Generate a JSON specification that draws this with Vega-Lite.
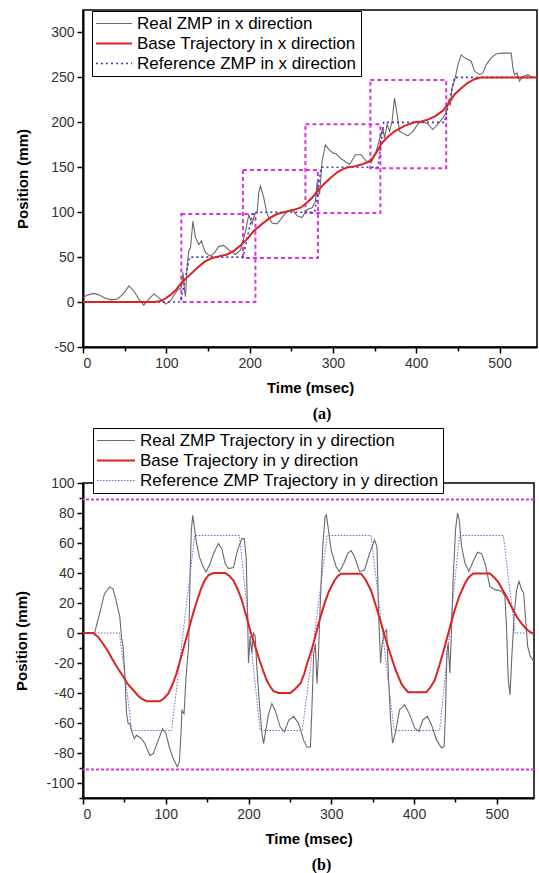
{
  "$schema": "https://vega.github.io/schema/vega-lite/v6.json",
  "padding": {"left": 14, "top": 9, "right": 0, "bottom": 0},
  "config": {
    "font": "Liberation Sans",
    "view": {"stroke": "black", "strokeWidth": 1.5},
    "axis": {"grid": false, "domainColor": "black", "domainWidth": 2, "tickColor": "black", "tickWidth": 1.5, "labelFont": "Liberation Sans", "labelFontSize": 14, "labelColor": "#333", "titleFont": "Liberation Sans", "titleFontSize": 15, "titleFontWeight": "bold", "titleColor": "black", "labelPadding": 3, "labelOverlap": false},
    "concat": {"spacing": 3}
  },
  "datasets": {
    "aRects": [
      {"t": 118, "t2": 207, "v": 0, "v2": 98},
      {"t": 192, "t2": 282, "v": 49, "v2": 147},
      {"t": 267, "t2": 357, "v": 99, "v2": 198},
      {"t": 345, "t2": 436, "v": 149, "v2": 247}
    ],
    "aLines": [
      {"s": "Real ZMP in x direction", "t": 0, "v": 5}, {"s": "Real ZMP in x direction", "t": 6, "v": 8}, {"s": "Real ZMP in x direction", "t": 13, "v": 9.6}, {"s": "Real ZMP in x direction", "t": 19, "v": 8}, {"s": "Real ZMP in x direction", "t": 25, "v": 5}, {"s": "Real ZMP in x direction", "t": 33, "v": 2.5}, {"s": "Real ZMP in x direction", "t": 41, "v": 3.3}, {"s": "Real ZMP in x direction", "t": 47, "v": 8}, {"s": "Real ZMP in x direction", "t": 51, "v": 12.5}, {"s": "Real ZMP in x direction", "t": 55, "v": 18}, {"s": "Real ZMP in x direction", "t": 61, "v": 12.5}, {"s": "Real ZMP in x direction", "t": 67, "v": 3.3}, {"s": "Real ZMP in x direction", "t": 73, "v": -3.4}, {"s": "Real ZMP in x direction", "t": 79, "v": 3.3}, {"s": "Real ZMP in x direction", "t": 85, "v": 9}, {"s": "Real ZMP in x direction", "t": 91, "v": 5}, {"s": "Real ZMP in x direction", "t": 99, "v": -2.3}, {"s": "Real ZMP in x direction", "t": 105, "v": 1.4}, {"s": "Real ZMP in x direction", "t": 113, "v": 13}, {"s": "Real ZMP in x direction", "t": 118, "v": 16}, {"s": "Real ZMP in x direction", "t": 120, "v": 33}, {"s": "Real ZMP in x direction", "t": 122, "v": 12}, {"s": "Real ZMP in x direction", "t": 123, "v": 6}, {"s": "Real ZMP in x direction", "t": 125, "v": 40}, {"s": "Real ZMP in x direction", "t": 127, "v": 57}, {"s": "Real ZMP in x direction", "t": 129, "v": 60}, {"s": "Real ZMP in x direction", "t": 132, "v": 90}, {"s": "Real ZMP in x direction", "t": 135, "v": 72}, {"s": "Real ZMP in x direction", "t": 139, "v": 64}, {"s": "Real ZMP in x direction", "t": 142, "v": 68}, {"s": "Real ZMP in x direction", "t": 147, "v": 55}, {"s": "Real ZMP in x direction", "t": 153, "v": 51}, {"s": "Real ZMP in x direction", "t": 158, "v": 55}, {"s": "Real ZMP in x direction", "t": 163, "v": 62}, {"s": "Real ZMP in x direction", "t": 169, "v": 63}, {"s": "Real ZMP in x direction", "t": 175, "v": 58}, {"s": "Real ZMP in x direction", "t": 183, "v": 53}, {"s": "Real ZMP in x direction", "t": 189, "v": 58}, {"s": "Real ZMP in x direction", "t": 195, "v": 78}, {"s": "Real ZMP in x direction", "t": 199, "v": 97}, {"s": "Real ZMP in x direction", "t": 203, "v": 87}, {"s": "Real ZMP in x direction", "t": 206, "v": 98}, {"s": "Real ZMP in x direction", "t": 209, "v": 99}, {"s": "Real ZMP in x direction", "t": 211, "v": 122}, {"s": "Real ZMP in x direction", "t": 213, "v": 129}, {"s": "Real ZMP in x direction", "t": 217, "v": 116}, {"s": "Real ZMP in x direction", "t": 221, "v": 98}, {"s": "Real ZMP in x direction", "t": 227, "v": 88}, {"s": "Real ZMP in x direction", "t": 233, "v": 87}, {"s": "Real ZMP in x direction", "t": 239, "v": 94}, {"s": "Real ZMP in x direction", "t": 245, "v": 101}, {"s": "Real ZMP in x direction", "t": 251, "v": 103}, {"s": "Real ZMP in x direction", "t": 257, "v": 96}, {"s": "Real ZMP in x direction", "t": 263, "v": 94}, {"s": "Real ZMP in x direction", "t": 269, "v": 103}, {"s": "Real ZMP in x direction", "t": 275, "v": 105}, {"s": "Real ZMP in x direction", "t": 279, "v": 112}, {"s": "Real ZMP in x direction", "t": 281, "v": 133}, {"s": "Real ZMP in x direction", "t": 284, "v": 120}, {"s": "Real ZMP in x direction", "t": 287, "v": 157}, {"s": "Real ZMP in x direction", "t": 291, "v": 175}, {"s": "Real ZMP in x direction", "t": 295, "v": 170}, {"s": "Real ZMP in x direction", "t": 300, "v": 166}, {"s": "Real ZMP in x direction", "t": 304, "v": 165}, {"s": "Real ZMP in x direction", "t": 309, "v": 160}, {"s": "Real ZMP in x direction", "t": 314, "v": 157}, {"s": "Real ZMP in x direction", "t": 320, "v": 153}, {"s": "Real ZMP in x direction", "t": 327, "v": 164}, {"s": "Real ZMP in x direction", "t": 334, "v": 164}, {"s": "Real ZMP in x direction", "t": 340, "v": 157}, {"s": "Real ZMP in x direction", "t": 346, "v": 155}, {"s": "Real ZMP in x direction", "t": 352, "v": 168}, {"s": "Real ZMP in x direction", "t": 356, "v": 181}, {"s": "Real ZMP in x direction", "t": 360, "v": 194}, {"s": "Real ZMP in x direction", "t": 362, "v": 182}, {"s": "Real ZMP in x direction", "t": 365, "v": 198}, {"s": "Real ZMP in x direction", "t": 368, "v": 190}, {"s": "Real ZMP in x direction", "t": 371, "v": 201}, {"s": "Real ZMP in x direction", "t": 374, "v": 227}, {"s": "Real ZMP in x direction", "t": 377, "v": 209}, {"s": "Real ZMP in x direction", "t": 380, "v": 190}, {"s": "Real ZMP in x direction", "t": 384, "v": 188}, {"s": "Real ZMP in x direction", "t": 390, "v": 185}, {"s": "Real ZMP in x direction", "t": 396, "v": 190}, {"s": "Real ZMP in x direction", "t": 402, "v": 198}, {"s": "Real ZMP in x direction", "t": 408, "v": 201}, {"s": "Real ZMP in x direction", "t": 414, "v": 198}, {"s": "Real ZMP in x direction", "t": 420, "v": 192}, {"s": "Real ZMP in x direction", "t": 426, "v": 198}, {"s": "Real ZMP in x direction", "t": 432, "v": 205}, {"s": "Real ZMP in x direction", "t": 436, "v": 211}, {"s": "Real ZMP in x direction", "t": 439, "v": 224}, {"s": "Real ZMP in x direction", "t": 441, "v": 220}, {"s": "Real ZMP in x direction", "t": 443, "v": 238}, {"s": "Real ZMP in x direction", "t": 446, "v": 246}, {"s": "Real ZMP in x direction", "t": 450, "v": 264}, {"s": "Real ZMP in x direction", "t": 454, "v": 275}, {"s": "Real ZMP in x direction", "t": 458, "v": 272}, {"s": "Real ZMP in x direction", "t": 462, "v": 270}, {"s": "Real ZMP in x direction", "t": 466, "v": 268}, {"s": "Real ZMP in x direction", "t": 470, "v": 257}, {"s": "Real ZMP in x direction", "t": 476, "v": 253}, {"s": "Real ZMP in x direction", "t": 480, "v": 255}, {"s": "Real ZMP in x direction", "t": 484, "v": 264}, {"s": "Real ZMP in x direction", "t": 490, "v": 272}, {"s": "Real ZMP in x direction", "t": 496, "v": 276}, {"s": "Real ZMP in x direction", "t": 502, "v": 277}, {"s": "Real ZMP in x direction", "t": 510, "v": 277}, {"s": "Real ZMP in x direction", "t": 514, "v": 277}, {"s": "Real ZMP in x direction", "t": 516, "v": 261}, {"s": "Real ZMP in x direction", "t": 518, "v": 253}, {"s": "Real ZMP in x direction", "t": 521, "v": 255}, {"s": "Real ZMP in x direction", "t": 524, "v": 246}, {"s": "Real ZMP in x direction", "t": 528, "v": 251}, {"s": "Real ZMP in x direction", "t": 534, "v": 253}, {"s": "Real ZMP in x direction", "t": 540, "v": 250}, {"s": "Real ZMP in x direction", "t": 545, "v": 250},
      {"s": "Base Trajectory in x direction", "t": 0, "v": 0}, {"s": "Base Trajectory in x direction", "t": 85, "v": 0}, {"s": "Base Trajectory in x direction", "t": 90, "v": 0.5}, {"s": "Base Trajectory in x direction", "t": 95, "v": 2}, {"s": "Base Trajectory in x direction", "t": 100, "v": 4.5}, {"s": "Base Trajectory in x direction", "t": 105, "v": 8}, {"s": "Base Trajectory in x direction", "t": 112, "v": 14}, {"s": "Base Trajectory in x direction", "t": 119, "v": 22}, {"s": "Base Trajectory in x direction", "t": 128, "v": 30}, {"s": "Base Trajectory in x direction", "t": 137, "v": 38}, {"s": "Base Trajectory in x direction", "t": 146, "v": 45}, {"s": "Base Trajectory in x direction", "t": 155, "v": 49}, {"s": "Base Trajectory in x direction", "t": 164, "v": 51}, {"s": "Base Trajectory in x direction", "t": 173, "v": 53}, {"s": "Base Trajectory in x direction", "t": 181, "v": 57}, {"s": "Base Trajectory in x direction", "t": 189, "v": 63}, {"s": "Base Trajectory in x direction", "t": 197, "v": 70}, {"s": "Base Trajectory in x direction", "t": 205, "v": 79}, {"s": "Base Trajectory in x direction", "t": 215, "v": 87}, {"s": "Base Trajectory in x direction", "t": 225, "v": 94}, {"s": "Base Trajectory in x direction", "t": 233, "v": 98}, {"s": "Base Trajectory in x direction", "t": 241, "v": 100}, {"s": "Base Trajectory in x direction", "t": 251, "v": 102}, {"s": "Base Trajectory in x direction", "t": 261, "v": 105}, {"s": "Base Trajectory in x direction", "t": 268, "v": 110}, {"s": "Base Trajectory in x direction", "t": 275, "v": 116}, {"s": "Base Trajectory in x direction", "t": 282, "v": 124}, {"s": "Base Trajectory in x direction", "t": 290, "v": 132}, {"s": "Base Trajectory in x direction", "t": 298, "v": 139}, {"s": "Base Trajectory in x direction", "t": 306, "v": 145}, {"s": "Base Trajectory in x direction", "t": 312, "v": 148}, {"s": "Base Trajectory in x direction", "t": 318, "v": 150}, {"s": "Base Trajectory in x direction", "t": 326, "v": 151}, {"s": "Base Trajectory in x direction", "t": 334, "v": 153}, {"s": "Base Trajectory in x direction", "t": 340, "v": 155}, {"s": "Base Trajectory in x direction", "t": 346, "v": 158}, {"s": "Base Trajectory in x direction", "t": 352, "v": 166}, {"s": "Base Trajectory in x direction", "t": 358, "v": 176}, {"s": "Base Trajectory in x direction", "t": 366, "v": 184}, {"s": "Base Trajectory in x direction", "t": 374, "v": 190}, {"s": "Base Trajectory in x direction", "t": 386, "v": 196}, {"s": "Base Trajectory in x direction", "t": 398, "v": 200}, {"s": "Base Trajectory in x direction", "t": 406, "v": 201}, {"s": "Base Trajectory in x direction", "t": 414, "v": 203}, {"s": "Base Trajectory in x direction", "t": 423, "v": 207}, {"s": "Base Trajectory in x direction", "t": 432, "v": 213}, {"s": "Base Trajectory in x direction", "t": 439, "v": 221}, {"s": "Base Trajectory in x direction", "t": 446, "v": 231}, {"s": "Base Trajectory in x direction", "t": 454, "v": 238}, {"s": "Base Trajectory in x direction", "t": 462, "v": 244}, {"s": "Base Trajectory in x direction", "t": 470, "v": 248}, {"s": "Base Trajectory in x direction", "t": 478, "v": 250}, {"s": "Base Trajectory in x direction", "t": 545, "v": 250},
      {"s": "Reference ZMP in x direction", "t": 0, "v": 0}, {"s": "Reference ZMP in x direction", "t": 117, "v": 0}, {"s": "Reference ZMP in x direction", "t": 128, "v": 50}, {"s": "Reference ZMP in x direction", "t": 192, "v": 50}, {"s": "Reference ZMP in x direction", "t": 204, "v": 100}, {"s": "Reference ZMP in x direction", "t": 278, "v": 100}, {"s": "Reference ZMP in x direction", "t": 286, "v": 150}, {"s": "Reference ZMP in x direction", "t": 354, "v": 150}, {"s": "Reference ZMP in x direction", "t": 361, "v": 200}, {"s": "Reference ZMP in x direction", "t": 434, "v": 200}, {"s": "Reference ZMP in x direction", "t": 446, "v": 250}, {"s": "Reference ZMP in x direction", "t": 545, "v": 250}
    ],
    "bLim": [{"v": 89}, {"v": -91}],
    "bLines": [
      {"s": "Real ZMP Trajectory in y direction", "t": 0, "v": 0}, {"s": "Real ZMP Trajectory in y direction", "t": 14, "v": 0}, {"s": "Real ZMP Trajectory in y direction", "t": 20, "v": 12.9}, {"s": "Real ZMP Trajectory in y direction", "t": 26, "v": 26.2}, {"s": "Real ZMP Trajectory in y direction", "t": 32, "v": 30.7}, {"s": "Real ZMP Trajectory in y direction", "t": 36, "v": 29.6}, {"s": "Real ZMP Trajectory in y direction", "t": 40, "v": 21.8}, {"s": "Real ZMP Trajectory in y direction", "t": 44.5, "v": 10.7}, {"s": "Real ZMP Trajectory in y direction", "t": 46.5, "v": -2.6}, {"s": "Real ZMP Trajectory in y direction", "t": 48.5, "v": -9.3}, {"s": "Real ZMP Trajectory in y direction", "t": 50.5, "v": -27}, {"s": "Real ZMP Trajectory in y direction", "t": 52.6, "v": -53.8}, {"s": "Real ZMP Trajectory in y direction", "t": 54.6, "v": -60.4}, {"s": "Real ZMP Trajectory in y direction", "t": 56.6, "v": -60.4}, {"s": "Real ZMP Trajectory in y direction", "t": 58.6, "v": -64.9}, {"s": "Real ZMP Trajectory in y direction", "t": 61.9, "v": -70.4}, {"s": "Real ZMP Trajectory in y direction", "t": 64.7, "v": -68.2}, {"s": "Real ZMP Trajectory in y direction", "t": 67.9, "v": -69.3}, {"s": "Real ZMP Trajectory in y direction", "t": 70.7, "v": -70.4}, {"s": "Real ZMP Trajectory in y direction", "t": 74.8, "v": -73.8}, {"s": "Real ZMP Trajectory in y direction", "t": 80.8, "v": -81.6}, {"s": "Real ZMP Trajectory in y direction", "t": 84.9, "v": -80.4}, {"s": "Real ZMP Trajectory in y direction", "t": 90.9, "v": -71.6}, {"s": "Real ZMP Trajectory in y direction", "t": 96.2, "v": -63.8}, {"s": "Real ZMP Trajectory in y direction", "t": 100.2, "v": -67.1}, {"s": "Real ZMP Trajectory in y direction", "t": 104.3, "v": -76}, {"s": "Real ZMP Trajectory in y direction", "t": 109.1, "v": -83.8}, {"s": "Real ZMP Trajectory in y direction", "t": 114, "v": -89.3}, {"s": "Real ZMP Trajectory in y direction", "t": 116.4, "v": -86}, {"s": "Real ZMP Trajectory in y direction", "t": 118.4, "v": -67.1}, {"s": "Real ZMP Trajectory in y direction", "t": 119.6, "v": -51.6}, {"s": "Real ZMP Trajectory in y direction", "t": 122.1, "v": -53.8}, {"s": "Real ZMP Trajectory in y direction", "t": 124.5, "v": -29.3}, {"s": "Real ZMP Trajectory in y direction", "t": 126.1, "v": -18.2}, {"s": "Real ZMP Trajectory in y direction", "t": 127.7, "v": -9.3}, {"s": "Real ZMP Trajectory in y direction", "t": 129.3, "v": 35.1}, {"s": "Real ZMP Trajectory in y direction", "t": 130.9, "v": 68.4}, {"s": "Real ZMP Trajectory in y direction", "t": 132.6, "v": 78.4}, {"s": "Real ZMP Trajectory in y direction", "t": 134.6, "v": 70.7}, {"s": "Real ZMP Trajectory in y direction", "t": 136.6, "v": 61.8}, {"s": "Real ZMP Trajectory in y direction", "t": 140.6, "v": 50.7}, {"s": "Real ZMP Trajectory in y direction", "t": 145.5, "v": 44}, {"s": "Real ZMP Trajectory in y direction", "t": 148.7, "v": 40.7}, {"s": "Real ZMP Trajectory in y direction", "t": 153.6, "v": 46.2}, {"s": "Real ZMP Trajectory in y direction", "t": 157.6, "v": 52.9}, {"s": "Real ZMP Trajectory in y direction", "t": 163.7, "v": 59.6}, {"s": "Real ZMP Trajectory in y direction", "t": 167.7, "v": 56.2}, {"s": "Real ZMP Trajectory in y direction", "t": 171.8, "v": 46.2}, {"s": "Real ZMP Trajectory in y direction", "t": 175.8, "v": 42.9}, {"s": "Real ZMP Trajectory in y direction", "t": 181.8, "v": 43.6}, {"s": "Real ZMP Trajectory in y direction", "t": 186.7, "v": 55.1}, {"s": "Real ZMP Trajectory in y direction", "t": 191.9, "v": 62.9}, {"s": "Real ZMP Trajectory in y direction", "t": 194.8, "v": 62.9}, {"s": "Real ZMP Trajectory in y direction", "t": 197.2, "v": 50.7}, {"s": "Real ZMP Trajectory in y direction", "t": 198.8, "v": 13.3}, {"s": "Real ZMP Trajectory in y direction", "t": 200, "v": -20}, {"s": "Real ZMP Trajectory in y direction", "t": 202, "v": -2.2}, {"s": "Real ZMP Trajectory in y direction", "t": 204, "v": -13.3}, {"s": "Real ZMP Trajectory in y direction", "t": 206, "v": 0}, {"s": "Real ZMP Trajectory in y direction", "t": 208, "v": -2}, {"s": "Real ZMP Trajectory in y direction", "t": 210, "v": -22.2}, {"s": "Real ZMP Trajectory in y direction", "t": 213.4, "v": -48.9}, {"s": "Real ZMP Trajectory in y direction", "t": 216.2, "v": -66.7}, {"s": "Real ZMP Trajectory in y direction", "t": 218.2, "v": -73.8}, {"s": "Real ZMP Trajectory in y direction", "t": 220.2, "v": -67.1}, {"s": "Real ZMP Trajectory in y direction", "t": 224.3, "v": -53.8}, {"s": "Real ZMP Trajectory in y direction", "t": 228.3, "v": -47.1}, {"s": "Real ZMP Trajectory in y direction", "t": 232.3, "v": -51.6}, {"s": "Real ZMP Trajectory in y direction", "t": 238.4, "v": -62.7}, {"s": "Real ZMP Trajectory in y direction", "t": 243.3, "v": -66}, {"s": "Real ZMP Trajectory in y direction", "t": 248.5, "v": -58.2}, {"s": "Real ZMP Trajectory in y direction", "t": 254.6, "v": -55.6}, {"s": "Real ZMP Trajectory in y direction", "t": 260.6, "v": -60.4}, {"s": "Real ZMP Trajectory in y direction", "t": 266.7, "v": -71.6}, {"s": "Real ZMP Trajectory in y direction", "t": 270.7, "v": -76}, {"s": "Real ZMP Trajectory in y direction", "t": 274.8, "v": -76}, {"s": "Real ZMP Trajectory in y direction", "t": 276.4, "v": -53.8}, {"s": "Real ZMP Trajectory in y direction", "t": 278.8, "v": -13.8}, {"s": "Real ZMP Trajectory in y direction", "t": 280.8, "v": -7.1}, {"s": "Real ZMP Trajectory in y direction", "t": 282.8, "v": -33.8}, {"s": "Real ZMP Trajectory in y direction", "t": 284.4, "v": -16}, {"s": "Real ZMP Trajectory in y direction", "t": 286.9, "v": 22}, {"s": "Real ZMP Trajectory in y direction", "t": 289.7, "v": 57.6}, {"s": "Real ZMP Trajectory in y direction", "t": 292.5, "v": 77.6}, {"s": "Real ZMP Trajectory in y direction", "t": 294.1, "v": 78.7}, {"s": "Real ZMP Trajectory in y direction", "t": 296.6, "v": 68.7}, {"s": "Real ZMP Trajectory in y direction", "t": 299.8, "v": 55.4}, {"s": "Real ZMP Trajectory in y direction", "t": 305.9, "v": 44.2}, {"s": "Real ZMP Trajectory in y direction", "t": 309.9, "v": 40.9}, {"s": "Real ZMP Trajectory in y direction", "t": 315.2, "v": 46.5}, {"s": "Real ZMP Trajectory in y direction", "t": 320, "v": 53.1}, {"s": "Real ZMP Trajectory in y direction", "t": 324, "v": 54.9}, {"s": "Real ZMP Trajectory in y direction", "t": 328.1, "v": 51}, {"s": "Real ZMP Trajectory in y direction", "t": 334.2, "v": 40.9}, {"s": "Real ZMP Trajectory in y direction", "t": 340.2, "v": 42}, {"s": "Real ZMP Trajectory in y direction", "t": 346.3, "v": 53.1}, {"s": "Real ZMP Trajectory in y direction", "t": 352.3, "v": 62}, {"s": "Real ZMP Trajectory in y direction", "t": 355.2, "v": 57.6}, {"s": "Real ZMP Trajectory in y direction", "t": 357.2, "v": 13.3}, {"s": "Real ZMP Trajectory in y direction", "t": 359.6, "v": -20}, {"s": "Real ZMP Trajectory in y direction", "t": 361.6, "v": -6.7}, {"s": "Real ZMP Trajectory in y direction", "t": 364.4, "v": 0}, {"s": "Real ZMP Trajectory in y direction", "t": 366.9, "v": 2.2}, {"s": "Real ZMP Trajectory in y direction", "t": 369.3, "v": -31.1}, {"s": "Real ZMP Trajectory in y direction", "t": 371.7, "v": -57.8}, {"s": "Real ZMP Trajectory in y direction", "t": 374.1, "v": -73.3}, {"s": "Real ZMP Trajectory in y direction", "t": 377.4, "v": -66.7}, {"s": "Real ZMP Trajectory in y direction", "t": 382.6, "v": -51.1}, {"s": "Real ZMP Trajectory in y direction", "t": 388.7, "v": -47.8}, {"s": "Real ZMP Trajectory in y direction", "t": 394.8, "v": -54.4}, {"s": "Real ZMP Trajectory in y direction", "t": 400.8, "v": -63.3}, {"s": "Real ZMP Trajectory in y direction", "t": 405.7, "v": -65.6}, {"s": "Real ZMP Trajectory in y direction", "t": 410.9, "v": -57.8}, {"s": "Real ZMP Trajectory in y direction", "t": 416.2, "v": -55.6}, {"s": "Real ZMP Trajectory in y direction", "t": 421.1, "v": -61.1}, {"s": "Real ZMP Trajectory in y direction", "t": 427.1, "v": -71.1}, {"s": "Real ZMP Trajectory in y direction", "t": 433.2, "v": -76.7}, {"s": "Real ZMP Trajectory in y direction", "t": 436.4, "v": -75.6}, {"s": "Real ZMP Trajectory in y direction", "t": 438, "v": -53.3}, {"s": "Real ZMP Trajectory in y direction", "t": 439.7, "v": -13.3}, {"s": "Real ZMP Trajectory in y direction", "t": 441.3, "v": -6.7}, {"s": "Real ZMP Trajectory in y direction", "t": 443.3, "v": -26.7}, {"s": "Real ZMP Trajectory in y direction", "t": 445.3, "v": 2.2}, {"s": "Real ZMP Trajectory in y direction", "t": 447.3, "v": 35.6}, {"s": "Real ZMP Trajectory in y direction", "t": 450.2, "v": 68.9}, {"s": "Real ZMP Trajectory in y direction", "t": 452.6, "v": 80}, {"s": "Real ZMP Trajectory in y direction", "t": 454.6, "v": 75.6}, {"s": "Real ZMP Trajectory in y direction", "t": 457.5, "v": 57.8}, {"s": "Real ZMP Trajectory in y direction", "t": 461.5, "v": 46.7}, {"s": "Real ZMP Trajectory in y direction", "t": 466.3, "v": 41.1}, {"s": "Real ZMP Trajectory in y direction", "t": 471.5, "v": 47.8}, {"s": "Real ZMP Trajectory in y direction", "t": 476.8, "v": 53.8}, {"s": "Real ZMP Trajectory in y direction", "t": 481.6, "v": 52.9}, {"s": "Real ZMP Trajectory in y direction", "t": 485.7, "v": 46.7}, {"s": "Real ZMP Trajectory in y direction", "t": 491.7, "v": 31.1}, {"s": "Real ZMP Trajectory in y direction", "t": 497.8, "v": 28.9}, {"s": "Real ZMP Trajectory in y direction", "t": 505.9, "v": 27.8}, {"s": "Real ZMP Trajectory in y direction", "t": 509.9, "v": 24.4}, {"s": "Real ZMP Trajectory in y direction", "t": 511.9, "v": 2.2}, {"s": "Real ZMP Trajectory in y direction", "t": 513.9, "v": -31.1}, {"s": "Real ZMP Trajectory in y direction", "t": 516, "v": -41.1}, {"s": "Real ZMP Trajectory in y direction", "t": 518, "v": -17.8}, {"s": "Real ZMP Trajectory in y direction", "t": 521.2, "v": 13.3}, {"s": "Real ZMP Trajectory in y direction", "t": 524, "v": 28.9}, {"s": "Real ZMP Trajectory in y direction", "t": 526.9, "v": 34.4}, {"s": "Real ZMP Trajectory in y direction", "t": 530.1, "v": 28.9}, {"s": "Real ZMP Trajectory in y direction", "t": 532.5, "v": 26.7}, {"s": "Real ZMP Trajectory in y direction", "t": 534.9, "v": 8.9}, {"s": "Real ZMP Trajectory in y direction", "t": 537.3, "v": -8.9}, {"s": "Real ZMP Trajectory in y direction", "t": 540.6, "v": -15.6}, {"s": "Real ZMP Trajectory in y direction", "t": 545, "v": -18.9},
      {"s": "Base Trajectory in y direction", "t": 0, "v": 0}, {"s": "Base Trajectory in y direction", "t": 12, "v": 0}, {"s": "Base Trajectory in y direction", "t": 18, "v": -2.5}, {"s": "Base Trajectory in y direction", "t": 24, "v": -7}, {"s": "Base Trajectory in y direction", "t": 30, "v": -12}, {"s": "Base Trajectory in y direction", "t": 36, "v": -18}, {"s": "Base Trajectory in y direction", "t": 42, "v": -23.5}, {"s": "Base Trajectory in y direction", "t": 48.5, "v": -29}, {"s": "Base Trajectory in y direction", "t": 54, "v": -34}, {"s": "Base Trajectory in y direction", "t": 60.6, "v": -38}, {"s": "Base Trajectory in y direction", "t": 66, "v": -41.5}, {"s": "Base Trajectory in y direction", "t": 70.8, "v": -43.7}, {"s": "Base Trajectory in y direction", "t": 76.8, "v": -45.5}, {"s": "Base Trajectory in y direction", "t": 93, "v": -45.5}, {"s": "Base Trajectory in y direction", "t": 98, "v": -43.5}, {"s": "Base Trajectory in y direction", "t": 103, "v": -40.4}, {"s": "Base Trajectory in y direction", "t": 108, "v": -34.5}, {"s": "Base Trajectory in y direction", "t": 113, "v": -27}, {"s": "Base Trajectory in y direction", "t": 118, "v": -17}, {"s": "Base Trajectory in y direction", "t": 123, "v": -7}, {"s": "Base Trajectory in y direction", "t": 128, "v": 3}, {"s": "Base Trajectory in y direction", "t": 133, "v": 13}, {"s": "Base Trajectory in y direction", "t": 138, "v": 22}, {"s": "Base Trajectory in y direction", "t": 143.5, "v": 30.7}, {"s": "Base Trajectory in y direction", "t": 147, "v": 35}, {"s": "Base Trajectory in y direction", "t": 151.5, "v": 38.5}, {"s": "Base Trajectory in y direction", "t": 157.6, "v": 40}, {"s": "Base Trajectory in y direction", "t": 171.8, "v": 40}, {"s": "Base Trajectory in y direction", "t": 177, "v": 38}, {"s": "Base Trajectory in y direction", "t": 181.8, "v": 35}, {"s": "Base Trajectory in y direction", "t": 187, "v": 29}, {"s": "Base Trajectory in y direction", "t": 192, "v": 21.8}, {"s": "Base Trajectory in y direction", "t": 197, "v": 12}, {"s": "Base Trajectory in y direction", "t": 202, "v": 1.8}, {"s": "Base Trajectory in y direction", "t": 207, "v": -7}, {"s": "Base Trajectory in y direction", "t": 212, "v": -16}, {"s": "Base Trajectory in y direction", "t": 217, "v": -24}, {"s": "Base Trajectory in y direction", "t": 222, "v": -31.5}, {"s": "Base Trajectory in y direction", "t": 226, "v": -35.5}, {"s": "Base Trajectory in y direction", "t": 230, "v": -38.7}, {"s": "Base Trajectory in y direction", "t": 236, "v": -40}, {"s": "Base Trajectory in y direction", "t": 250.5, "v": -40}, {"s": "Base Trajectory in y direction", "t": 256, "v": -37.5}, {"s": "Base Trajectory in y direction", "t": 262.7, "v": -33.7}, {"s": "Base Trajectory in y direction", "t": 267.5, "v": -27}, {"s": "Base Trajectory in y direction", "t": 271, "v": -20}, {"s": "Base Trajectory in y direction", "t": 274.8, "v": -13.8}, {"s": "Base Trajectory in y direction", "t": 279.6, "v": -4.9}, {"s": "Base Trajectory in y direction", "t": 285, "v": 7}, {"s": "Base Trajectory in y direction", "t": 291.8, "v": 19.6}, {"s": "Base Trajectory in y direction", "t": 297, "v": 27.5}, {"s": "Base Trajectory in y direction", "t": 303.9, "v": 35}, {"s": "Base Trajectory in y direction", "t": 308, "v": 38}, {"s": "Base Trajectory in y direction", "t": 312, "v": 39.5}, {"s": "Base Trajectory in y direction", "t": 336, "v": 39.5}, {"s": "Base Trajectory in y direction", "t": 341, "v": 36}, {"s": "Base Trajectory in y direction", "t": 348, "v": 28.5}, {"s": "Base Trajectory in y direction", "t": 354, "v": 18}, {"s": "Base Trajectory in y direction", "t": 360.5, "v": 6}, {"s": "Base Trajectory in y direction", "t": 366, "v": -4.5}, {"s": "Base Trajectory in y direction", "t": 372.6, "v": -16}, {"s": "Base Trajectory in y direction", "t": 378, "v": -25}, {"s": "Base Trajectory in y direction", "t": 384.7, "v": -33.8}, {"s": "Base Trajectory in y direction", "t": 389, "v": -37}, {"s": "Base Trajectory in y direction", "t": 393, "v": -39.5}, {"s": "Base Trajectory in y direction", "t": 415, "v": -39.5}, {"s": "Base Trajectory in y direction", "t": 420, "v": -36}, {"s": "Base Trajectory in y direction", "t": 425, "v": -31.5}, {"s": "Base Trajectory in y direction", "t": 431, "v": -21}, {"s": "Base Trajectory in y direction", "t": 437, "v": -9.3}, {"s": "Base Trajectory in y direction", "t": 443, "v": 3}, {"s": "Base Trajectory in y direction", "t": 449, "v": 15}, {"s": "Base Trajectory in y direction", "t": 455, "v": 25}, {"s": "Base Trajectory in y direction", "t": 461.5, "v": 33}, {"s": "Base Trajectory in y direction", "t": 466, "v": 37}, {"s": "Base Trajectory in y direction", "t": 471.5, "v": 39.6}, {"s": "Base Trajectory in y direction", "t": 491.8, "v": 39.6}, {"s": "Base Trajectory in y direction", "t": 497, "v": 37}, {"s": "Base Trajectory in y direction", "t": 501.8, "v": 34}, {"s": "Base Trajectory in y direction", "t": 510, "v": 26}, {"s": "Base Trajectory in y direction", "t": 518, "v": 17.3}, {"s": "Base Trajectory in y direction", "t": 524, "v": 11}, {"s": "Base Trajectory in y direction", "t": 530, "v": 6.3}, {"s": "Base Trajectory in y direction", "t": 537, "v": 2}, {"s": "Base Trajectory in y direction", "t": 545, "v": -1},
      {"s": "Reference ZMP Trajectory in y direction", "t": 0, "v": 0}, {"s": "Reference ZMP Trajectory in y direction", "t": 44, "v": 0}, {"s": "Reference ZMP Trajectory in y direction", "t": 59, "v": -65}, {"s": "Reference ZMP Trajectory in y direction", "t": 107, "v": -65}, {"s": "Reference ZMP Trajectory in y direction", "t": 135, "v": 65}, {"s": "Reference ZMP Trajectory in y direction", "t": 189, "v": 65}, {"s": "Reference ZMP Trajectory in y direction", "t": 214, "v": -65}, {"s": "Reference ZMP Trajectory in y direction", "t": 265, "v": -65}, {"s": "Reference ZMP Trajectory in y direction", "t": 295, "v": 65}, {"s": "Reference ZMP Trajectory in y direction", "t": 348, "v": 65}, {"s": "Reference ZMP Trajectory in y direction", "t": 376, "v": -65}, {"s": "Reference ZMP Trajectory in y direction", "t": 431, "v": -65}, {"s": "Reference ZMP Trajectory in y direction", "t": 455, "v": 65}, {"s": "Reference ZMP Trajectory in y direction", "t": 508, "v": 65}, {"s": "Reference ZMP Trajectory in y direction", "t": 522, "v": 0}, {"s": "Reference ZMP Trajectory in y direction", "t": 545, "v": 0}
    ]
  },
  "resolve": {
    "scale": {"x": "independent", "y": "independent", "color": "independent"},
    "legend": {"color": "independent"}
  },
  "vconcat": [
    {
      "width": 454, "height": 337,
      "title": {"text": "(a)", "orient": "bottom", "frame": "group", "anchor": "middle", "dx": 12, "font": "Liberation Serif", "fontSize": 16, "fontWeight": "bold", "color": "black", "offset": 11},
      "layer": [
        {
          "data": {"name": "aRects"},
          "mark": {"type": "rect", "filled": false, "stroke": "#dd33dd", "strokeWidth": 2, "strokeDash": [4, 3]},
          "encoding": {
            "x": {"field": "t", "type": "quantitative", "title": "Time (msec)", "scale": {"domain": [0, 545], "nice": false, "zero": false}, "axis": {"values": [0, 50, 100, 150, 200, 250, 300, 350, 400, 450, 500], "labelExpr": "datum.value % 100 === 0 ? datum.label : ''", "labelOverlap": false, "tickSize": {"condition": {"test": "datum.value % 100 !== 0", "value": 4}, "value": 6}, "titlePadding": 10}},
            "x2": {"field": "t2"},
            "y": {"field": "v", "type": "quantitative", "title": "Position (mm)", "scale": {"domain": [-50, 325], "nice": false, "zero": false}, "axis": {"values": [-50, -25, 0, 25, 50, 75, 100, 125, 150, 175, 200, 225, 250, 275, 300, 325], "labelExpr": "datum.value % 50 === 0 ? '' + datum.value : ''", "labelOverlap": false, "tickSize": {"condition": {"test": "datum.value % 50 !== 0", "value": 4}, "value": 6}, "titlePadding": 20}},
            "y2": {"field": "v2"}
          }
        },
        {
          "data": {"name": "aLines"},
          "transform": [{"filter": "datum.s === 'Real ZMP in x direction'"}],
          "mark": {"type": "line", "strokeWidth": 1.1},
          "encoding": {
            "x": {"field": "t", "type": "quantitative", "title": "Time (msec)"},
            "y": {"field": "v", "type": "quantitative", "title": "Position (mm)"},
            "color": {"field": "s", "type": "nominal", "scale": {"domain": ["Real ZMP in x direction", "Base Trajectory in x direction", "Reference ZMP in x direction"], "range": ["#6a6a6a", "#dd2222", "#3a3acc"]}, "legend": {"orient": "none", "legendX": 9, "legendY": 1, "title": null, "symbolType": "stroke", "symbolSize": 1296, "symbolStrokeWidth": 1.5, "labelFont": "Liberation Sans", "labelFontSize": 17, "labelColor": "black", "labelLimit": 400, "labelOffset": 5, "padding": 4, "rowPadding": 2, "strokeColor": "black", "fillColor": "white", "encode": {"symbols": {"update": {"x": {"value": 18}, "strokeDash": {"signal": "datum.value === 'Reference ZMP in x direction' ? [2, 3] : [1, 0]"}, "strokeWidth": {"signal": "datum.value === 'Base Trajectory in x direction' ? 2 : (datum.value === 'Reference ZMP in x direction' ? 1.6 : 1)"}}}, "labels": {"update": {"x": {"value": 41}}}}}}
          }
        },
        {
          "data": {"name": "aLines"},
          "transform": [{"filter": "datum.s === 'Reference ZMP in x direction'"}],
          "mark": {"type": "line", "strokeWidth": 1.6, "strokeDash": [2, 3]},
          "encoding": {
            "x": {"field": "t", "type": "quantitative", "title": "Time (msec)"},
            "y": {"field": "v", "type": "quantitative", "title": "Position (mm)"},
            "color": {"field": "s", "type": "nominal"}
          }
        },
        {
          "data": {"name": "aLines"},
          "transform": [{"filter": "datum.s === 'Base Trajectory in x direction'"}],
          "mark": {"type": "line", "strokeWidth": 2},
          "encoding": {
            "x": {"field": "t", "type": "quantitative", "title": "Time (msec)"},
            "y": {"field": "v", "type": "quantitative", "title": "Position (mm)"},
            "color": {"field": "s", "type": "nominal"}
          }
        }
      ]
    },
    {
      "width": 451, "height": 315,
      "title": {"text": "(b)", "orient": "bottom", "frame": "group", "anchor": "middle", "dx": 13, "font": "Liberation Serif", "fontSize": 16, "fontWeight": "bold", "color": "black", "offset": 11},
      "resolve": {"axis": {"y": "independent"}},
      "layer": [
        {
          "data": {"name": "bLines"},
          "transform": [{"filter": "datum.s === 'Real ZMP Trajectory in y direction'"}],
          "mark": {"type": "line", "strokeWidth": 1.1},
          "encoding": {
            "x": {"field": "t", "type": "quantitative", "title": "Time (msec)", "scale": {"domain": [0, 545], "nice": false, "zero": false}, "axis": {"values": [0, 50, 100, 150, 200, 250, 300, 350, 400, 450, 500], "labelExpr": "datum.value % 100 === 0 ? datum.label : ''", "labelOverlap": false, "tickSize": {"condition": {"test": "datum.value % 100 !== 0", "value": 4}, "value": 6}, "titlePadding": 10}},
            "y": {"field": "v", "type": "quantitative", "title": "Position (mm)", "scale": {"domain": [-110, 100], "nice": false, "zero": false}, "axis": {"orient": "left", "values": [-100, -80, -60, -40, -20, 0, 20, 40, 60, 80, 100], "labelExpr": "'' + datum.value", "labelOverlap": false, "tickSize": 6, "titlePadding": 16}},
            "color": {"field": "s", "type": "nominal", "scale": {"domain": ["Real ZMP Trajectory in y direction", "Base Trajectory in y direction", "Reference ZMP Trajectory in y direction"], "range": ["#6a6a6a", "#dd2222", "#6a6ad8"]}, "legend": {"orient": "none", "legendX": 10, "legendY": -55, "title": null, "symbolType": "stroke", "symbolSize": 1444, "symbolStrokeWidth": 1.5, "labelFont": "Liberation Sans", "labelFontSize": 17, "labelColor": "black", "labelLimit": 400, "labelOffset": 6, "padding": 4, "rowPadding": 2, "strokeColor": "black", "fillColor": "white", "encode": {"symbols": {"update": {"x": {"value": 19}, "strokeDash": {"signal": "datum.value === 'Reference ZMP Trajectory in y direction' ? [1.5, 1.5] : [1, 0]"}, "strokeWidth": {"signal": "datum.value === 'Base Trajectory in y direction' ? 2 : 1"}}}, "labels": {"update": {"x": {"value": 43}}}}}}
          }
        },
        {
          "data": {"name": "bLim"},
          "mark": {"type": "rule", "stroke": "#dd33dd", "strokeWidth": 2, "strokeDash": [3, 2]},
          "encoding": {
            "y": {"field": "v", "type": "quantitative", "axis": {"orient": "left", "values": [-110, -90, -70, -50, -30, -10, 10, 30, 50, 70, 90], "labels": false, "tickSize": 4, "domain": false, "title": null}}
          }
        },
        {
          "data": {"name": "bLines"},
          "transform": [{"filter": "datum.s === 'Reference ZMP Trajectory in y direction'"}],
          "mark": {"type": "line", "strokeWidth": 1, "strokeDash": [1.5, 1.5]},
          "encoding": {
            "x": {"field": "t", "type": "quantitative", "title": "Time (msec)"},
            "y": {"field": "v", "type": "quantitative", "axis": null},
            "color": {"field": "s", "type": "nominal"}
          }
        },
        {
          "data": {"name": "bLines"},
          "transform": [{"filter": "datum.s === 'Base Trajectory in y direction'"}],
          "mark": {"type": "line", "strokeWidth": 2},
          "encoding": {
            "x": {"field": "t", "type": "quantitative", "title": "Time (msec)"},
            "y": {"field": "v", "type": "quantitative", "axis": null},
            "color": {"field": "s", "type": "nominal"}
          }
        }
      ]
    }
  ]
}
